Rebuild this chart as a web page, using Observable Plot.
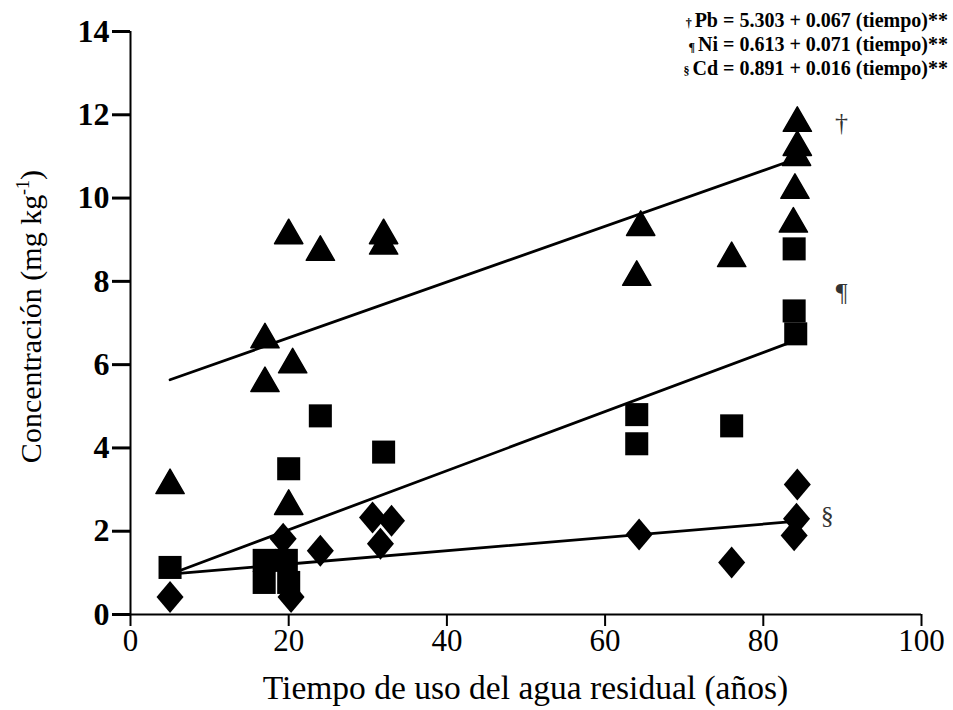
<!DOCTYPE html>
<html>
<head>
<meta charset="utf-8">
<script src="https://cdn.jsdelivr.net/npm/d3@7"></script>
<script src="https://cdn.jsdelivr.net/npm/@observablehq/plot@0.6"></script>
<style>
  body { margin: 0; background: #fff; }
  #chart { width: 953px; height: 710px; }
</style>
</head>
<body>
<div id="chart"></div>
<script>
// Pb (triangles)
const pbYears  = [5, 17, 17, 20, 20.5, 20, 24, 32, 32, 64.5, 64, 76, 84.3, 84.3, 84.2, 84, 83.8];
const pbValues = [3.1, 6.6, 5.55, 9.1, 6.0, 2.6, 8.7, 9.1, 8.85, 9.3, 8.1, 8.55, 11.8, 11.22, 10.98, 10.19, 9.38];
// Ni (squares)
const niYears  = [5, 16.9, 19.7, 16.9, 20, 20, 24, 32, 64, 64, 76, 83.9, 83.9, 84.1];
const niValues = [1.13, 1.3, 1.3, 0.77, 0.77, 3.5, 4.77, 3.9, 4.8, 4.1, 4.53, 8.78, 7.29, 6.74];
// Cd (diamonds)
const cdYears  = [5, 19.3, 20.3, 24, 30.6, 31.6, 33, 64.3, 76, 84.3, 84.2, 83.9];
const cdValues = [0.42, 1.82, 0.42, 1.53, 2.33, 1.7, 2.25, 1.92, 1.25, 3.12, 2.3, 1.9];

// Fitted regressions: concentración = a + b (tiempo)
const metals     = ["Pb", "Ni", "Cd"];
const marks      = ["\u2020", "\u00B6", "\u00A7"];
const intercepts = [5.303, 0.613, 0.891];
const slopes     = [0.067, 0.071, 0.016];
const fitRange   = [5, 84];

// Footnote markers placed beside the end of each fitted line
const tagYears  = [89.9, 89.9, 88.1];
const tagValues = [11.8, 7.72, 2.37];

const xTicks = [0, 20, 40, 60, 80, 100];
const yTicks = [0, 2, 4, 6, 8, 10, 12, 14];

const toRows = (xs, ys) => xs.map((t, i) => ({t, c: ys[i]}));
const pb = toRows(pbYears, pbValues);
const ni = toRows(niYears, niValues);
const cd = toRows(cdYears, cdValues);

const fits = metals.flatMap((m, i) =>
  fitRange.map(t => ({metal: m, t, c: intercepts[i] + slopes[i] * t})));
const tags = marks.map((s, i) => ({s, t: tagYears[i], c: tagValues[i]}));

// Slightly tall rhombus
const tallDiamond = {
  draw(ctx, size) {
    const r = Math.sqrt(size / Math.PI);
    const h = r * 1.23, w = r * 1.04;
    ctx.moveTo(0, -h); ctx.lineTo(w, 0); ctx.lineTo(0, h); ctx.lineTo(-w, 0); ctx.closePath();
  }
};

const serif = '"Liberation Serif", "Times New Roman", serif';

const chart = Plot.plot({
  width: 953,
  height: 710,
  marginLeft: 130,
  marginRight: 32,
  marginTop: 31,
  marginBottom: 96,
  style: {fontFamily: serif, background: "#fff", color: "#000", overflow: "visible"},
  x: {domain: [0, 100]},
  y: {domain: [0, 14]},
  marks: [
    Plot.axisY(yTicks, {tickSize: 18, tickPadding: 3, fontSize: 32, fontWeight: "bold", strokeWidth: 3, label: null}),
    Plot.axisX(xTicks, {tickSize: 12, tickPadding: 2, fontSize: 31, strokeWidth: 2, label: null}),
    Plot.ruleY([0], {x1: 0, x2: 100, insetLeft: -18, strokeWidth: 2}),
    Plot.ruleX([0], {y1: 0, y2: 14, strokeWidth: 2}),
    Plot.line(fits, {x: "t", y: "c", z: "metal", stroke: "#000", strokeWidth: 2.8}),
    Plot.dot(pb, {x: "t", y: "c", symbol: "triangle", r: 10.5, fill: "#000", stroke: "#000", strokeWidth: 1.5, strokeLinejoin: "round"}),
    Plot.dot(ni, {x: "t", y: "c", symbol: "square", r: 13, fill: "#000", stroke: "none"}),
    Plot.dot(cd, {x: "t", y: "c", symbol: tallDiamond, r: 13, fill: "#000", stroke: "none"}),
    Plot.text(tags, {x: "t", y: "c", text: "s", fontSize: 26, fill: "#333"})
  ]
});

document.getElementById("chart").appendChild(chart);

// Axis titles and regression equations
const svg = d3.select(chart);
const xs = chart.scale("x"), ys = chart.scale("y");
const xMid = (xs.range[0] + xs.range[1]) / 2;
const yMid = (ys.range[0] + ys.range[1]) / 2;

svg.append("text")
  .attr("x", xMid).attr("y", 699)
  .attr("text-anchor", "middle")
  .attr("font-family", serif).attr("font-size", 33.5).attr("fill", "#000")
  .text("Tiempo de uso del agua residual (años)");

const yTitle = svg.append("text")
  .attr("transform", `translate(41,${yMid - 6}) rotate(-90)`)
  .attr("text-anchor", "middle")
  .attr("font-family", serif).attr("font-size", 30).attr("fill", "#000");
yTitle.append("tspan").text("Concentración (mg kg");
yTitle.append("tspan").attr("dy", -12).attr("font-size", 18).text("-1");
yTitle.append("tspan").attr("dy", 12).text(")");

metals.forEach((m, i) => {
  const t = svg.append("text")
    .attr("x", 948).attr("y", 27 + i * 24)
    .attr("text-anchor", "end")
    .attr("font-family", serif).attr("font-weight", "bold").attr("font-size", 20).attr("fill", "#000");
  t.append("tspan").attr("font-size", 12).text(marks[i] + " ");
  t.append("tspan").text(`${m} = ${intercepts[i].toFixed(3)} + ${slopes[i].toFixed(3)} (tiempo)**`);
});
</script>
</body>
</html>
